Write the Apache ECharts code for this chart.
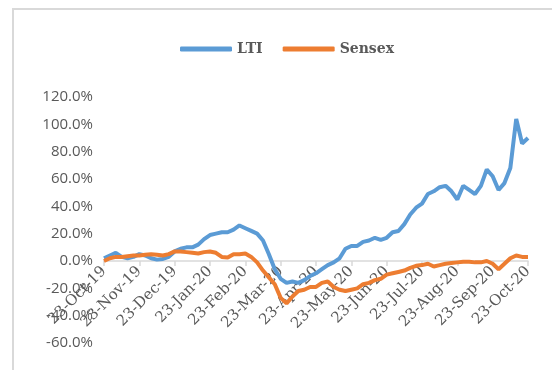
<!DOCTYPE html>
<html>
<head>
<meta charset="utf-8">
<script src="https://cdn.jsdelivr.net/npm/echarts@6/dist/echarts.min.js"></script>
<style>
  html, body { margin: 0; padding: 0; background: #fff; }
  #container { width: 552px; height: 370px; }
</style>
</head>
<body>
<div id="container"></div>
<script>
// month tick labels (one every 6 points)
var monthLabels = ["23-Oct-19", "23-Nov-19", "23-Dec-19", "23-Jan-20", "23-Feb-20", "23-Mar-20",
  "23-Apr-20", "23-May-20", "23-Jun-20", "23-Jul-20", "23-Aug-20", "23-Sep-20", "23-Oct-20"];

// cumulative return, %
var lti = [2, 4, 6, 3, 2, 3, 5, 4, 2, 1, 1.5, 3,
  7, 9, 10, 10, 12, 16, 19, 20, 21, 21, 23, 26,
  24, 22, 20, 15, 5, -6, -13, -16, -15, -16, -14, -11,
  -9, -6, -3, -1, 2, 9, 11, 11, 14, 15, 17, 15.5,
  17, 21, 22, 27, 34, 39, 42, 49, 51, 54, 55, 51,
  45, 55, 52, 49, 55, 67, 62, 52, 57, 68, 104, 86, 90];

var sensex = [0, 2, 3, 3, 3.5, 4, 4, 4.5, 5, 4.5, 4, 5,
  7, 7, 6.5, 6, 5.5, 6.5, 7, 6, 3, 2.5, 5, 5,
  5.5, 3, -1, -7, -12, -17, -27, -31, -26, -22, -21, -19,
  -19, -16, -15, -19, -21, -22, -21, -20, -17, -16, -14, -13,
  -10, -9, -8, -7, -5, -3.5, -3, -2, -4, -3, -2, -1.5,
  -1, -0.5, -0.5, -1, -1, 0, -2, -6, -2, 2, 4, 3, 3];

var yTicks = [-60, -40, -20, 0, 20, 40, 60, 80, 100, 120];

var categories = lti.map(function(v, i) {
  return monthLabels[Math.floor(i / 6)] + "/" + (i % 6);
});

var gridTop = 97, gridBottom = 27, chartH = 370;
var yMin = yTicks[0], yMax = yTicks[yTicks.length - 1];
// put the category axis on the 0% line
var zeroOffset = -(0 - yMin) / (yMax - yMin) * (chartH - gridTop - gridBottom);

var dom = document.getElementById("container");
var myChart = echarts.init(dom);

var option = {
  animation: false,
  color: ["#5B9BD5", "#ED7D31"],
  graphic: [{
    type: "rect",
    shape: { x: 13, y: 9, width: 600, height: 420 },
    style: { fill: "none", stroke: "#d9d9d9", lineWidth: 2 },
    silent: true
  }],
  legend: {
    top: 37,
    left: 175,
    itemWidth: 52,
    itemHeight: 5,
    itemGap: 20,
    icon: "roundRect",
    textStyle: {
      fontFamily: "DejaVu Serif",
      fontWeight: "bold",
      fontSize: 14,
      color: "#595959"
    },
    data: ["LTI", "Sensex"]
  },
  grid: {
    left: 104,
    right: 24,
    top: gridTop,
    bottom: gridBottom,
    outerBoundsMode: "none"
  },
  xAxis: {
    type: "category",
    boundaryGap: false,
    data: categories,
    position: "bottom",
    offset: zeroOffset,
    axisLine: { onZero: false, lineStyle: { color: "#d9d9d9", width: 1.5 } },
    axisTick: { interval: 5, length: 5, lineStyle: { color: "#d9d9d9", width: 1.5 } },
    axisLabel: {
      interval: 5,
      rotate: 45,
      margin: 8,
      fontFamily: "DejaVu Serif",
      fontSize: 15,
      color: "#595959",
      formatter: function(value) {
        return value.split("/")[0];
      }
    }
  },
  yAxis: {
    type: "value",
    min: yMin,
    max: yMax,
    interval: 20,
    splitLine: { show: false },
    axisLine: { show: false },
    axisTick: { show: false },
    axisLabel: {
      margin: 11,
      fontFamily: "Open Sans",
      fontSize: 15,
      color: "#595959",
      formatter: function(v) {
        return v.toFixed(1) + "%";
      }
    }
  },
  series: [
    {
      name: "LTI",
      type: "line",
      data: lti,
      symbol: "none",
      lineStyle: { width: 4 }
    },
    {
      name: "Sensex",
      type: "line",
      data: sensex,
      symbol: "none",
      lineStyle: { width: 4 }
    }
  ]
};

myChart.setOption(option, true);
</script>
</body>
</html>
